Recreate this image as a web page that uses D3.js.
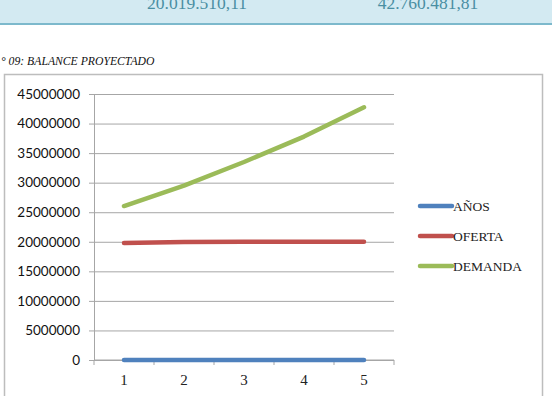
<!DOCTYPE html>
<html>
<head>
<meta charset="utf-8">
<script src="https://cdn.jsdelivr.net/npm/d3@7"></script>
<style>
  body { margin: 0; background: #fff; }
  svg { display: block; }
</style>
</head>
<body>
<div id="container"></div>
<script>
// Declare the chart dimensions.
const width = 552;
const height = 396;

// data
const years = [1, 2, 3, 4, 5];
const anos = [1, 2, 3, 4, 5];
const oferta = [19800000, 19960000, 19990000, 20005000, 20019510.11];
const demanda = [26050000, 29490000, 33500000, 37800000, 42760481.81];
const seriesNames = ["AÑOS", "OFERTA", "DEMANDA"];
const yTicks = [0, 5000000, 10000000, 15000000, 20000000, 25000000, 30000000, 35000000, 40000000, 45000000];
const bannerValues = ["20.019.510,11", "42.760.481,81"];
const caption = "° 09: BALANCE PROYECTADO";

const colorScale = d3.scaleOrdinal()
    .domain(seriesNames)
    .range(["#4f81bd", "#c0504d", "#9bbb59"]);

// plot area
const marginLeft = 94;
const plotRight = 394;
const marginTop = 94;
const plotBottom = 360;

const svg = d3.select("#container").append("svg")
    .attr("width", width)
    .attr("height", height)
    .attr("viewBox", [0, 0, width, height]);

// banner at the top (table row cut off by the page edge)
svg.append("rect")
    .attr("x", 0).attr("y", 0)
    .attr("width", width).attr("height", 23)
    .attr("fill", "#d3eaf2");
svg.append("line")
    .attr("x1", 0).attr("x2", width)
    .attr("y1", 24).attr("y2", 24)
    .attr("stroke", "#7db9cc")
    .attr("stroke-width", 2);
svg.selectAll(".banner")
    .data(bannerValues)
    .join("text")
    .attr("x", (d, i) => [197, 428][i])
    .attr("y", 9)
    .attr("text-anchor", "middle")
    .attr("fill", "#4a8fa3")
    .style("font-family", "'Liberation Serif', serif")
    .style("font-size", "17.5px")
    .text(d => d);

// caption
svg.append("text")
    .attr("x", 1)
    .attr("y", 65)
    .attr("fill", "#111")
    .style("font-family", "'Liberation Serif', serif")
    .style("font-style", "italic")
    .style("font-size", "11.7px")
    .text(caption);

// chart frame
svg.append("rect")
    .attr("x", 4.5).attr("y", 74.5)
    .attr("width", 538).attr("height", 330)
    .attr("fill", "#fff")
    .attr("stroke", "#bdbdbd")
    .attr("stroke-width", 1.5);

// Declare the x (category) scale and y scale.
const x = d3.scaleBand()
    .domain(years)
    .range([marginLeft, plotRight]);

const y = d3.scaleLinear()
    .domain([0, 45000000])
    .range([plotBottom, marginTop]);

// gridlines + y axis
svg.append("g")
    .attr("transform", `translate(${marginLeft},0)`)
    .call(d3.axisLeft(y).tickValues(yTicks).tickSize(5).tickPadding(9).tickFormat(d3.format("d")))
    .call(g => g.select(".domain").attr("stroke", "#a6a6a6"))
    .call(g => g.selectAll(".tick line").attr("stroke", "#a6a6a6"))
    .call(g => g.selectAll(".tick line").clone()
        .attr("x1", 0)
        .attr("x2", plotRight - marginLeft)
        .attr("stroke", "#a6a6a6"))
    .call(g => g.selectAll(".tick text")
        .attr("fill", "#111")
        .style("font-family", "Lato, 'Open Sans', sans-serif")
        .style("font-size", "13.5px"));

// x axis with ticks between categories
const xAxis = svg.append("g")
    .attr("transform", `translate(0,${plotBottom})`);
xAxis.append("line")
    .attr("x1", marginLeft).attr("x2", plotRight)
    .attr("stroke", "#a6a6a6");
xAxis.selectAll(".tk")
    .data([...years.map(d => x(d)), plotRight])
    .join("line")
    .attr("x1", d => d).attr("x2", d => d)
    .attr("y1", 0).attr("y2", 5)
    .attr("stroke", "#a6a6a6");
xAxis.selectAll(".lbl")
    .data(years)
    .join("text")
    .attr("x", d => x(d) + x.bandwidth() / 2)
    .attr("y", 25)
    .attr("text-anchor", "middle")
    .attr("fill", "#222")
    .style("font-family", "'Liberation Serif', serif")
    .style("font-size", "15px")
    .text(d => d);

// Declare the line generator.
const line = d3.line()
    .x((d, i) => x(years[i]) + x.bandwidth() / 2)
    .y(d => y(d));

const series = [anos, oferta, demanda];
series.forEach((values, i) => {
    svg.append("path")
        .datum(values)
        .attr("fill", "none")
        .attr("stroke", colorScale(seriesNames[i]))
        .attr("stroke-width", 4.5)
        .attr("stroke-linecap", "round")
        .attr("stroke-linejoin", "round")
        .attr("d", line);
});

// legend
const legend = svg.append("g")
    .attr("transform", "translate(420,206)");
seriesNames.forEach((name, i) => {
    const row = legend.append("g")
        .attr("transform", `translate(0, ${i * 30})`);
    row.append("line")
        .attr("x1", 0).attr("x2", 32)
        .attr("stroke", colorScale(name))
        .attr("stroke-width", 4.5)
        .attr("stroke-linecap", "round");
    row.append("text")
        .attr("x", 33)
        .attr("y", 0)
        .attr("dy", "0.35em")
        .attr("fill", "#222")
        .style("font-family", "'Liberation Serif', serif")
        .style("font-size", "13.5px")
        .text(name);
});
</script>
</body>
</html>
